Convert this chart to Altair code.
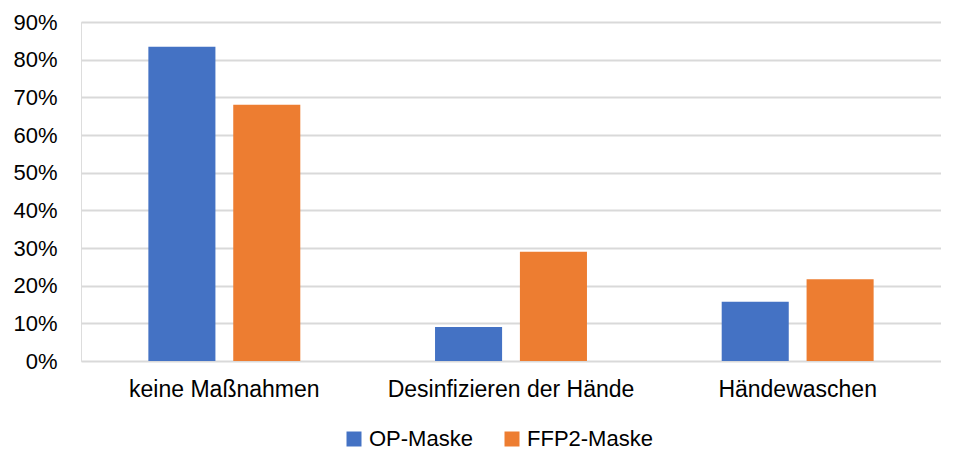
import altair as alt
import pandas as pd

categories = ["keine Maßnahmen", "Desinfizieren der Hände", "Händewaschen"]
series = ["OP-Maske", "FFP2-Maske"]
op_values = [0.834, 0.09, 0.157]
ffp2_values = [0.68, 0.29, 0.217]
colors = ["#4472C4", "#ED7D31"]
y_ticks = [0, 0.1, 0.2, 0.3, 0.4, 0.5, 0.6, 0.7, 0.8, 0.9]

rows = []
for c, v in zip(categories, op_values):
    rows.append({"Kategorie": c, "Serie": series[0], "Wert": v})
for c, v in zip(categories, ffp2_values):
    rows.append({"Kategorie": c, "Serie": series[1], "Wert": v})
df = pd.DataFrame(rows)

FONT = "Liberation Sans"

chart = alt.Chart(df).mark_bar().encode(
    x=alt.X("Kategorie:N", sort=categories, title=None,
            scale=alt.Scale(paddingInner=0.47, paddingOuter=0.235),
            axis=alt.Axis(labelAngle=0, ticks=False, domain=False, labelPadding=17,
                          labelLimit=0, labelFontSize=23, labelColor="#000000",
                          labelFont=FONT)),
    xOffset=alt.XOffset("Serie:N", sort=series,
                        scale=alt.Scale(paddingInner=0.21, paddingOuter=0)),
    y=alt.Y("Wert:Q", title=None,
            scale=alt.Scale(domain=[0, 0.9], nice=False),
            axis=alt.Axis(values=y_ticks, format=".0%", ticks=False, domain=False,
                          labelPadding=24, labelFontSize=22, labelColor="#000000",
                          labelFont=FONT, grid=True, gridColor="#d9d9d9", gridWidth=2)),
    color=alt.Color("Serie:N", sort=series, title=None,
                    scale=alt.Scale(domain=series, range=colors),
                    legend=alt.Legend(orient="none", direction="horizontal",
                                      legendX=262, legendY=406,
                                      symbolType="square", symbolSize=225,
                                      symbolStrokeWidth=0, labelFontSize=22,
                                      labelFont=FONT, labelColor="#000000",
                                      columnPadding=28)),
).properties(
    width=860, height=339,
    padding={"left": 4, "top": 3, "right": 0, "bottom": 0},
).configure_view(stroke=None).configure(font=FONT)

chart.save("out.html", embed_options={"renderer": "svg", "actions": False})
